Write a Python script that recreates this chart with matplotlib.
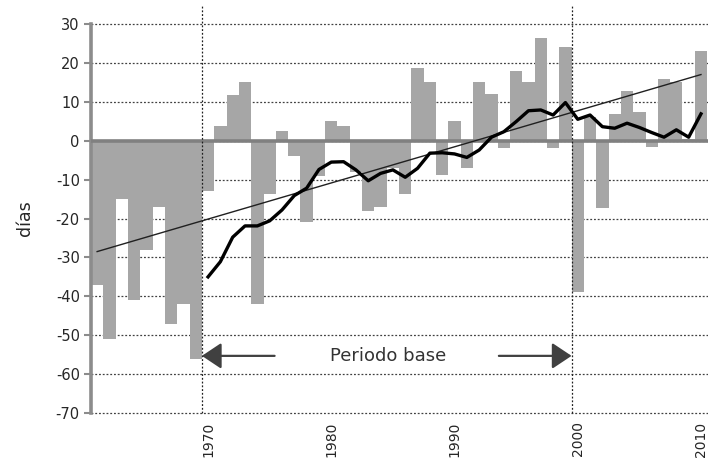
import matplotlib
matplotlib.use("Agg")
import matplotlib.pyplot as plt

plt.rcParams["axes.unicode_minus"] = False

# yearly anomaly (days)
years = list(range(1961, 2011))
anomaly = [
    -37, -51, -15, -41, -28, -17, -47, -42, -56, -13,
    3.7, 11.8, 15, -42, -13.6, 2.6, -4, -21, -9, 5,
    3.7, -8, -18, -17, -7, -13.7, 18.7, 15, -8.7, 5,
    -7, 15.2, 12, -2, 18, 15, 26.4, -2, 24, -39,
    6, -17.3, 6.8, 12.7, 7.4, -1.5, 15.8, 15, 0.5, 23,
]

# smoothed curve, 1970-2010
smooth_years = list(range(1970, 2011))
smooth = [
    -35.0, -31.1, -24.8, -21.9, -21.9, -20.6, -17.8, -14.1, -12.2, -7.4,
    -5.5, -5.4, -7.5, -10.3, -8.4, -7.5, -9.4, -7.1, -3.2, -3.1,
    -3.4, -4.3, -2.4, 0.9, 2.3, 4.9, 7.7, 7.9, 6.6, 9.8,
    5.5, 6.6, 3.6, 3.2, 4.5, 3.4, 2.1, 0.9, 2.8, 0.9, 6.9,
]

# linear trend end points
trend_years = [1961, 2010]
trend_vals = [-28.5, 17.0]

xtick_years = [1970, 1980, 1990, 2000, 2010]
yticks = list(range(-70, 31, 10))
base_period = [1969.5, 1999.5]

fig = plt.figure(figsize=(7.08, 4.61), dpi=100)
ax = fig.add_axes([0.1285, 0.104, 0.8715, 0.844])

ax.bar(years, anomaly, width=1.0, color="#a6a6a6", zorder=2)

for y in yticks:
    ax.axhline(y, color="#404040", lw=0.9, ls=(0, (1.5, 1.5)), zorder=1,
               clip_on=False)
ax.axhline(0, color="#808080", lw=2.6, zorder=3)

for x in base_period:
    ax.plot([x, x], [-70, 35], color="#202020", lw=0.9, ls=(0, (1.5, 1.5)),
            clip_on=False, zorder=4)

ax.plot(trend_years, trend_vals, color="#202020", lw=1.0, zorder=5)
ax.plot(smooth_years, smooth, color="black", lw=2.4, zorder=6)

ax.set_xlim(1960.5, 2010.57)
ax.set_ylim(-70, 30)
ax.set_yticks(yticks)
ax.set_xticks(xtick_years)
ax.set_xticklabels([str(y) for y in xtick_years], rotation=90)

for s in ["top", "right", "bottom"]:
    ax.spines[s].set_visible(False)
ax.spines["left"].set_color("#8c8c8c")
ax.spines["left"].set_linewidth(2.6)
ax.tick_params(axis="y", direction="out", length=5, width=1.5, color="#8c8c8c",
               labelsize=10.5, labelcolor="#262626", pad=3)
ax.tick_params(axis="x", length=0, labelsize=10, labelcolor="#262626", pad=6)
ax.set_ylabel("días", fontsize=12.5, color="#262626", labelpad=16)

# base period annotation
ax.annotate("", xy=(1969.5, -55.3), xytext=(1975.4, -55.3),
            arrowprops=dict(arrowstyle="-|>,head_length=0.6,head_width=0.4",
                            color="#404040", lw=1.6, mutation_scale=20,
                            shrinkA=0, shrinkB=0), zorder=7)
ax.annotate("", xy=(1999.5, -55.3), xytext=(1993.6, -55.3),
            arrowprops=dict(arrowstyle="-|>,head_length=0.6,head_width=0.4",
                            color="#404040", lw=1.6, mutation_scale=20,
                            shrinkA=0, shrinkB=0), zorder=7)
ax.text(1984.6, -55.3, "Periodo base", ha="center", va="center",
        fontsize=13, color="#333333", zorder=7)

fig.savefig("out.png", dpi=100)
